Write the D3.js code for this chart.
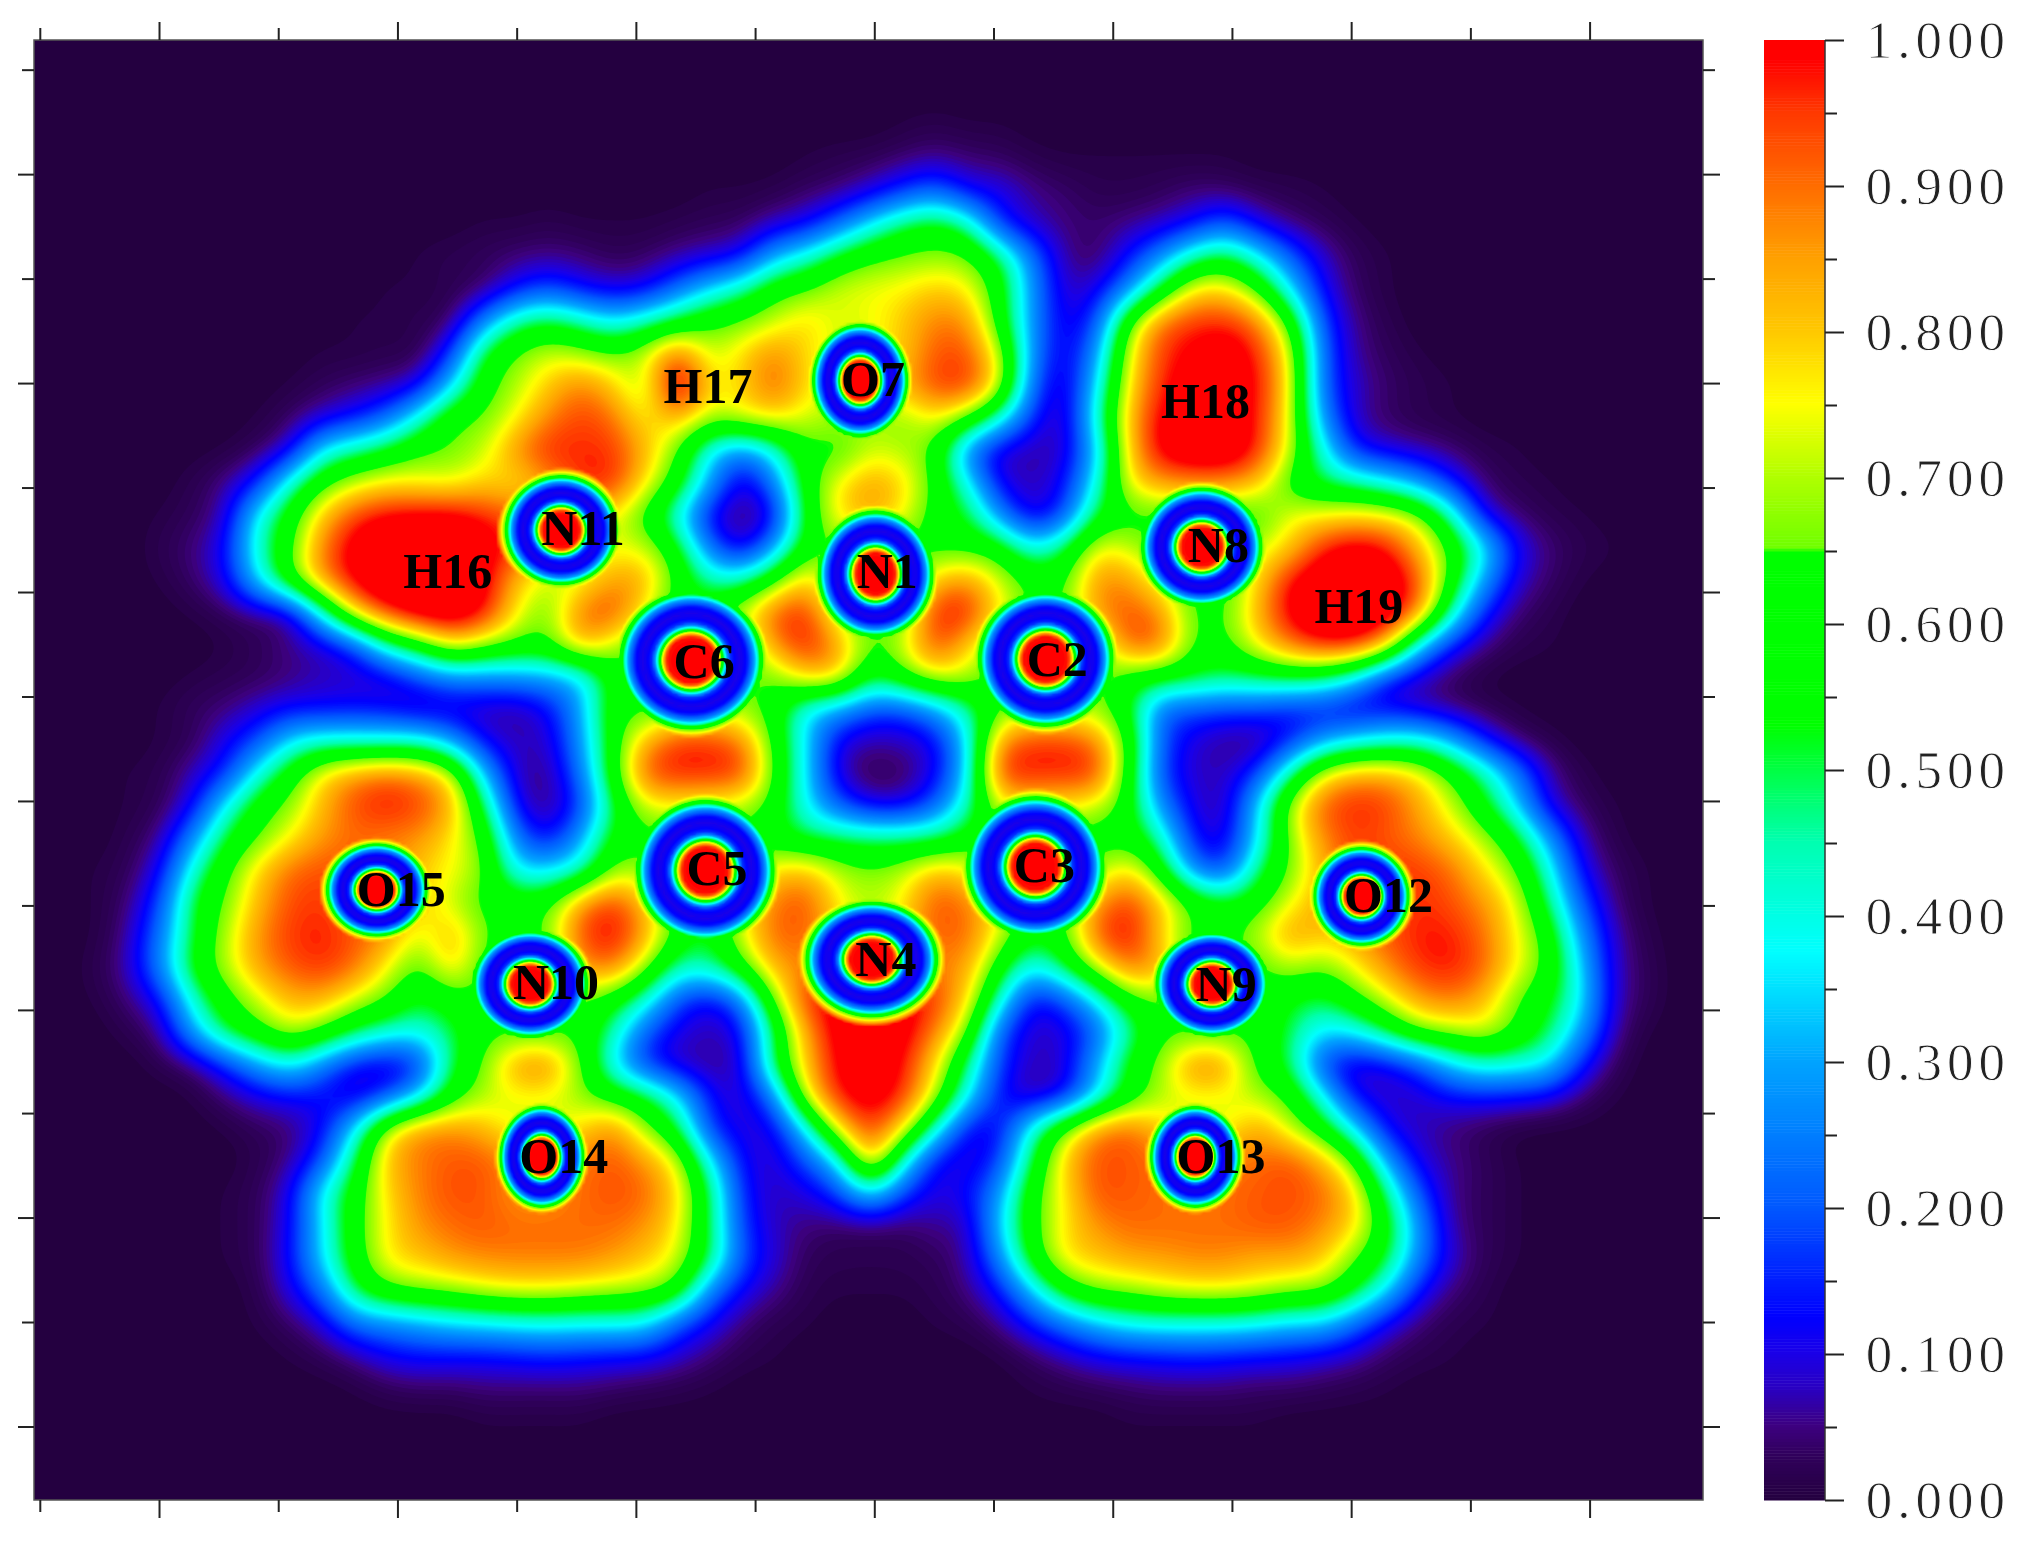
<!DOCTYPE html>
<html>
<head>
<meta charset="utf-8">
<script src="https://cdn.jsdelivr.net/npm/d3@7"></script>
<style>
  body { margin: 0; background: #fff; }
  .atom { font-family: "Liberation Serif", serif; font-weight: bold; font-size: 50px; fill: #000; text-anchor: middle; }
  .barlabel { font-family: "Liberation Serif", serif; font-size: 53px; letter-spacing: 5px; fill: #222; stroke: #fff; stroke-width: 0.9px; }
</style>
</head>
<body>
<div id="chart"></div>
<script>
// ELF values read off the picture, in percent. Sampled every 25 units along each row,
// each row begins at elfRowStart, anything outside a row is background (0).
// Lobe cores go a bit over 100 since the map gets softened afterwards
var elfRowY = d3.range(75, 1126, 25);
var elfRowStart = [75,700,625,550,375,325,300,275,250,225,200,175,150,125,125,125,150,175,150,125,125,100,100,100,75,75,75,75,75,100,125,150,175,200,175,175,175,200,200,225,275,375,75];
var elfRows = [
  [],
  [1,2,1,1],
  [1,2,3,5,7,5,4,2,1,1,1,1,1,1],
  [1,1,2,4,6,11,18,24,14,11,6,4,2,2,3,5,5,3,2,1],
  [1,1,2,1,1,1,2,3,4,9,13,24,38,50,55,46,18,9,5,4,6,9,14,22,12,6,3,1],
  [1,2,3,5,6,5,3,4,7,10,14,32,42,55,63,66,68,66,50,24,7,4,14,28,46,53,40,22,9,3,1],
  [1,1,2,5,14,20,14,11,13,24,36,46,60,65,72,74,76,80,76,58,28,9,11,28,54,76,78,64,38,13,4,1],
  [1,1,2,5,27,46,52,46,38,45,55,62,66,72,78,72,74,80,88,86,60,28,11,19,62,88,95,96,88,62,20,6,2],
  [1,1,2,3,18,52,65,72,70,66,72,90,72,78,87,78,72,75,80,92,92,72,28,11,28,72,94,100,104,96,74,24,7,3,1],
  [1,3,5,7,13,36,60,70,80,88,80,70,104,78,78,90,78,72,75,82,93,93,72,24,9,35,76,96,104,106,98,76,24,9,4,2,1],
  [1,4,10,15,24,42,62,66,76,88,94,90,76,82,68,72,75,72,68,70,68,75,62,40,16,8,40,80,100,106,106,97,74,30,9,4,2,1],
  [1,4,12,38,47,55,64,66,72,86,96,96,95,82,65,38,26,40,62,62,72,70,62,27,10,7,9,33,78,100,106,106,96,72,42,17,11,8,5,2,1],
  [2,6,16,42,62,72,77,76,75,80,78,85,95,95,76,58,30,10,25,58,75,84,78,62,40,13,8,13,40,74,84,86,86,80,62,52,47,40,30,16,5,2,1],
  [1,3,9,38,58,80,94,100,102,102,97,92,85,80,75,62,40,13,5,13,55,76,82,75,60,52,28,11,20,52,62,62,62,60,62,74,76,78,76,68,45,13,5,2,1],
  [2,5,13,42,62,88,102,108,108,108,103,94,80,72,74,72,55,25,11,30,60,64,62,62,62,62,58,40,50,74,72,64,62,66,72,80,96,102,98,82,62,38,13,5,2,1],
  [1,4,11,35,60,84,100,108,108,108,102,82,72,74,85,82,62,45,45,62,80,65,62,62,80,85,72,62,62,85,85,72,62,62,78,98,106,108,106,92,60,30,10,4,1],
  [1,3,6,10,42,76,94,104,106,98,76,66,88,92,74,58,62,72,90,95,70,62,64,95,96,76,62,64,84,92,86,64,64,82,100,108,108,104,86,45,16,5,2],
  [1,3,6,10,20,45,58,75,68,62,62,80,72,62,62,62,62,85,96,84,64,72,92,80,64,62,62,66,90,88,64,62,75,88,96,96,80,38,15,6,2,1],
  [1,2,3,5,8,9,11,20,27,27,28,30,36,58,62,62,64,66,66,78,76,52,60,72,70,62,62,62,68,60,56,52,48,50,52,50,38,17,9,4,1],
  [1,3,5,9,13,13,14,13,9,10,8,7,13,30,60,62,66,70,68,60,38,30,20,20,30,45,64,68,70,68,55,24,20,18,18,15,15,12,13,10,6,3,1],
  [1,3,11,20,36,42,42,42,42,30,13,8,9,28,58,82,94,94,88,62,36,12,7,8,13,36,84,94,94,88,62,22,10,6,6,16,30,38,42,42,32,16,6,2],
  [1,2,8,17,40,58,76,84,88,84,72,33,9,6,24,58,90,96,96,93,64,36,10,3,4,12,36,92,96,96,93,60,20,9,8,18,45,72,82,82,76,62,46,26,8,2],
  [1,3,13,38,58,68,82,93,97,93,82,50,13,6,18,50,72,74,72,70,60,38,22,12,12,22,44,72,76,75,72,58,28,11,8,34,68,90,96,94,84,72,56,36,12,4,1],
  [2,7,28,52,65,76,86,90,88,86,76,62,25,14,30,56,62,62,62,62,58,52,50,48,48,50,58,62,62,62,60,60,44,15,11,36,66,86,94,92,88,80,70,55,30,9,2],
  [1,3,13,42,62,78,90,93,93,90,80,75,66,38,36,44,68,68,58,62,66,78,80,70,66,70,80,76,66,60,62,68,78,58,28,20,48,66,82,95,96,95,90,78,66,42,14,4,1],
  [1,5,20,52,66,82,93,95,90,87,80,72,62,60,62,84,94,80,60,62,72,88,92,76,70,76,92,88,74,62,62,84,94,80,62,55,60,74,84,88,91,96,93,86,74,50,22,6,1],
  [1,7,25,52,70,86,95,97,92,86,72,82,66,60,66,92,98,84,60,52,72,90,90,80,70,80,90,90,72,55,62,90,98,80,62,62,70,84,80,84,92,97,97,90,76,60,30,9,2],
  [2,8,27,55,70,84,92,95,89,75,63,78,62,55,62,84,88,68,45,45,60,82,88,88,88,88,88,84,58,38,50,70,88,82,62,62,62,70,66,75,86,95,97,91,76,62,36,10,3],
  [1,5,14,42,60,72,82,82,72,64,52,60,62,62,62,66,58,42,20,13,26,66,94,102,104,102,94,78,42,14,20,38,60,66,62,62,62,55,50,60,72,84,88,82,66,55,38,10,3],
  [2,7,30,50,60,70,62,50,42,40,50,62,62,62,62,45,22,11,8,13,50,84,102,106,102,88,66,22,9,10,22,45,62,62,62,62,50,36,38,50,64,68,72,62,50,30,8,1],
  [2,6,17,30,38,26,14,11,18,50,66,84,86,66,38,18,9,6,10,50,80,100,106,98,78,48,18,8,10,30,55,68,86,84,62,50,20,10,12,20,34,42,40,36,16,4],
  [1,5,10,13,13,10,20,36,60,70,74,74,68,60,52,36,14,9,26,72,96,102,95,70,38,14,8,14,36,58,70,74,74,70,62,40,14,9,9,13,14,13,11,5,1],
  [1,3,5,13,36,70,84,86,82,74,74,78,86,68,52,18,10,12,38,75,94,76,42,14,13,40,64,84,90,80,74,74,84,72,58,36,13,8,5,3,1],
  [2,6,20,50,80,88,92,92,86,84,88,92,85,72,38,13,9,20,38,80,42,14,10,18,50,78,92,92,90,86,88,90,92,82,64,30,11,6,3,1],
  [1,3,11,38,58,78,88,93,92,86,86,90,93,90,78,50,16,8,10,18,36,18,10,13,28,60,76,92,92,90,88,90,92,93,90,78,48,20,6,3,1],
  [1,3,12,36,60,76,86,90,92,90,90,90,90,86,76,50,18,8,5,4,5,4,6,8,33,60,76,86,90,90,90,90,92,92,87,78,56,28,7,3,1],
  [1,3,13,36,58,76,80,85,87,88,88,88,85,80,72,50,20,9,3,2,2,2,3,7,26,56,76,80,84,85,87,87,84,84,80,66,52,26,9,3,1],
  [2,10,24,50,62,66,68,72,74,74,72,70,68,60,27,12,6,2,1,1,1,2,5,14,34,56,66,68,72,74,74,72,68,66,54,36,14,5,2],
  [1,4,10,24,28,32,36,38,40,41,40,40,38,22,12,5,2,1,0,0,0,1,2,6,15,25,34,40,42,42,42,40,36,35,24,12,5,2,1],
  [1,3,7,12,14,14,14,15,16,15,14,13,9,5,2,1,0,0,0,0,0,0,1,4,8,12,14,15,16,15,14,13,11,8,4,2,1],
  [1,3,4,4,5,5,5,5,4,3,2,1,0,0,0,0,0,0,0,0,0,1,2,3,4,5,5,5,4,4,3,2,1],
  [1,1,1,1,0,0,0,0,0,0,0,0,0,0,0,0,0,0,0,0,1,1,1,1,1],
  []
];

// atoms: the well of low ELF around each nucleus, radii are where it crosses cyan
var wellNames = ["N11","O7","N1","C6","C2","C5","C3","N4","N8","N9","N10","O15","O12","O14","O13"];
var wellX =  [435,667,679,536,811,547,803,676,932,940,411,292,1056,420,927];
var wellY =  [411,295,445,512,511,675,672,744,424,763,763,690,695,897,897];
var wellRx = [40,34,41,51,48,49,49,47,43,40,41,36,34,30,32];
var wellRy = [39,40,45,49,48,50,50,41,42,37,38,33,35,36,36];
// value against distance from the nucleus, in well radii
var wellRho = [0,.36,.40,.44,.48,.52,.58,.66,.74,.84,.93,1,1.05,1.1,1.18,1.3];
var wellElf = [1,.98,.9,.72,.55,.38,.18,.12,.1,.13,.24,.38,.55,.66,.80,1.05];

var labelNames = ["H16","H17","H18","H19","N11","O7","N1","C6","C2","C5","C3","N4","N8","N9","N10","O15","O12","O14","O13"];
var labelX = [347,549,935,1054,452,677,688,546,820,556,810,687,945,951,431,311,1077,437,947];
var labelY = [443,300,311,470,410,294,443,513,511,673,671,744,423,763,762,690,694,897,897];

var xMajor = [123,308,493,678,863,1048,1233];
var xMinor = [30.5,215.5,400.5,585.5,770.5,955.5,1140.5];
var yMajor = [135,297,459,621,783,944,1106];
var yMinor = [54,216,378,540,702,863,1025];

var barMajor = [0,.1,.2,.3,.4,.5,.6,.7,.8,.9,1];
var barMinor = [.05,.15,.25,.35,.45,.55,.65,.75,.85,.95];

var colorStops = [0,.03,.05,.075,.1,.125,.2,.3,.375,.45,.53,.648,.652,.7,.75,.8,.85,.9,.95,.985,1];
var colorHex = ["#240040","#30005c","#3d0080","#2a00c0","#1a00e8","#0000ff","#0058ff","#00a4ff","#00ffff","#00ffb0","#00ff00","#00ff00","#70ff00","#b0ff00","#ffff00","#ffc800","#ffa000","#ff6c00","#ff3800","#ff0000","#ff0000"];

var width = 2021, height = 1541;
var plot = {left: 34, right: 1703, top: 40, bottom: 1500};
var bar = {left: 1764, right: 1825};

var x = d3.scaleLinear().domain([26, 1321]).range([plot.left, plot.right]);
var y = d3.scaleLinear().domain([31, 1163]).range([plot.top, plot.bottom]);
var color = d3.scaleLinear().domain(colorStops).range(colorHex).clamp(true);
var barY = d3.scaleLinear().domain([0, 1]).range([plot.bottom, plot.top]);
var wellDepth = d3.scaleLinear().domain(wellRho).range(wellElf);

var svg = d3.select("#chart").append("svg")
    .attr("width", width)
    .attr("height", height);

svg.append("clipPath").attr("id", "plot-clip").append("rect")
    .attr("x", plot.left).attr("y", plot.top)
    .attr("width", plot.right - plot.left).attr("height", plot.bottom - plot.top);

// read-offs into a full table, values as 0..1
var elfColX = d3.range(75, 1276, 25);
var elf = elfRowY.map(function(_, j) {
  return elfColX.map(function(cx) {
    var v = elfRows[j][(cx - elfRowStart[j]) / 25];
    return v === undefined ? 0 : v / 100;
  });
});

function cell(i, j) {
  if (j < 0 || j >= elf.length || i < 0 || i >= elfColX.length) return 0;
  return elf[j][i];
}

function catmull(a, b, c, d, t) {
  return b + 0.5 * t * (c - a + t * (2 * a - 5 * b + 4 * c - d + t * (3 * (b - c) + d - a)));
}

// smooth reading between the sampled values
function elfAt(px, py) {
  var fx = (px - 75) / 25, fy = (py - 75) / 25;
  var i = Math.floor(fx), j = Math.floor(fy);
  var tx = fx - i, ty = fy - j;
  var col = [];
  for (var m = -1; m <= 2; m++) {
    col.push(catmull(cell(i - 1, j + m), cell(i, j + m), cell(i + 1, j + m), cell(i + 2, j + m), tx));
  }
  return Math.max(0, catmull(col[0], col[1], col[2], col[3], ty));
}

// contour field at 3px
var step = 3;
var fw = Math.ceil((plot.right - plot.left) / step) + 1;
var fh = Math.ceil((plot.bottom - plot.top) / step) + 1;
var field = new Float64Array(fw * fh);
for (var r = 0; r < fh; r++) {
  var py = y.invert(plot.top + r * step);
  for (var c = 0; c < fw; c++) {
    field[r * fw + c] = elfAt(x.invert(plot.left + c * step), py);
  }
}

// take the lumps of the coarse reading out, then put the atoms in
d3.blur2({data: field, width: fw, height: fh}, 4);

for (var r = 0; r < fh; r++) {
  var py = y.invert(plot.top + r * step);
  for (var c = 0; c < fw; c++) {
    var px = x.invert(plot.left + c * step);
    var v = field[r * fw + c];
    for (var k = 0; k < wellX.length; k++) {
      var dx = (px - wellX[k]) / wellRx[k], dy = (py - wellY[k]) / wellRy[k];
      var rho = Math.sqrt(dx * dx + dy * dy);
      if (rho < 0.74) v = wellDepth(rho);
      else if (rho < 1.3) v = Math.min(v, wellDepth(rho));
    }
    field[r * fw + c] = Math.min(1, v);
  }
}

var thresholds = d3.range(0.008, 1, 0.0075).concat([0.65]).sort(d3.ascending);
var contours = d3.contours().size([fw, fh]).thresholds(thresholds)(field);
var path = d3.geoPath();

var map = svg.append("g").attr("clip-path", "url(#plot-clip)");
map.append("rect")
    .attr("x", plot.left).attr("y", plot.top)
    .attr("width", plot.right - plot.left).attr("height", plot.bottom - plot.top)
    .attr("fill", color(0));
map.append("g")
    .attr("transform", "translate(" + (plot.left - step / 2) + "," + (plot.top - step / 2) + ") scale(" + step + ")")
  .selectAll("path")
  .data(contours)
  .join("path")
    .attr("d", path)
    .attr("fill", function(d) { return color(d.value + 0.003); });

svg.append("g").selectAll("text")
  .data(labelNames)
  .join("text")
    .attr("class", "atom")
    .attr("x", function(d, i) { return x(labelX[i]); })
    .attr("y", function(d, i) { return y(labelY[i]); })
    .attr("dy", "0.33em")
    .text(function(d) { return d; });

// frame and ticks
svg.append("rect")
    .attr("x", plot.left).attr("y", plot.top)
    .attr("width", plot.right - plot.left).attr("height", plot.bottom - plot.top)
    .attr("fill", "none").attr("stroke", "#555").attr("stroke-width", 1.5);

function ticks(axis, values, size, tx, ty) {
  var g = svg.append("g")
      .attr("transform", "translate(" + tx + "," + ty + ")")
      .call(axis.tickValues(values).tickSize(size).tickFormat(""));
  g.select(".domain").remove();
  g.selectAll("line").attr("stroke", "#222").attr("stroke-width", 2);
  return g;
}

ticks(d3.axisTop(x), xMajor, 18, 0, plot.top);
ticks(d3.axisTop(x), xMinor, 12, 0, plot.top);
ticks(d3.axisBottom(x), xMajor, 18, 0, plot.bottom);
ticks(d3.axisBottom(x), xMinor, 12, 0, plot.bottom);
ticks(d3.axisLeft(y), yMajor, 16, plot.left, 0);
ticks(d3.axisLeft(y), yMinor, 12, plot.left, 0);
ticks(d3.axisRight(y), yMajor, 17, plot.right, 0);
ticks(d3.axisRight(y), yMinor, 12, plot.right, 0);

// colour bar
var barSteps = d3.range(0, 1, 0.002);
svg.append("g").selectAll("rect")
  .data(barSteps)
  .join("rect")
    .attr("x", bar.left)
    .attr("y", function(d) { return barY(d + 0.002); })
    .attr("width", bar.right - bar.left)
    .attr("height", barY(0) - barY(0.002) + 0.5)
    .attr("fill", function(d) { return color(d); });

svg.append("line")
    .attr("x1", bar.right).attr("x2", bar.right)
    .attr("y1", plot.top).attr("y2", plot.bottom)
    .attr("stroke", "#333").attr("stroke-width", 1.5);

ticks(d3.axisRight(barY), barMinor, 12, bar.right, 0);
var barAxis = svg.append("g")
    .attr("transform", "translate(" + bar.right + ",0)")
    .call(d3.axisRight(barY).tickValues(barMajor).tickSize(19).tickFormat(d3.format(".3f")));
barAxis.select(".domain").remove();
barAxis.selectAll("line").attr("stroke", "#222").attr("stroke-width", 2);
barAxis.selectAll("text")
    .attr("class", "barlabel")
    .attr("x", 185)
    .attr("dy", "0.33em")
    .attr("text-anchor", "end")
    .attr("font-size", null)
    .attr("font-family", null);
</script>
</body>
</html>
